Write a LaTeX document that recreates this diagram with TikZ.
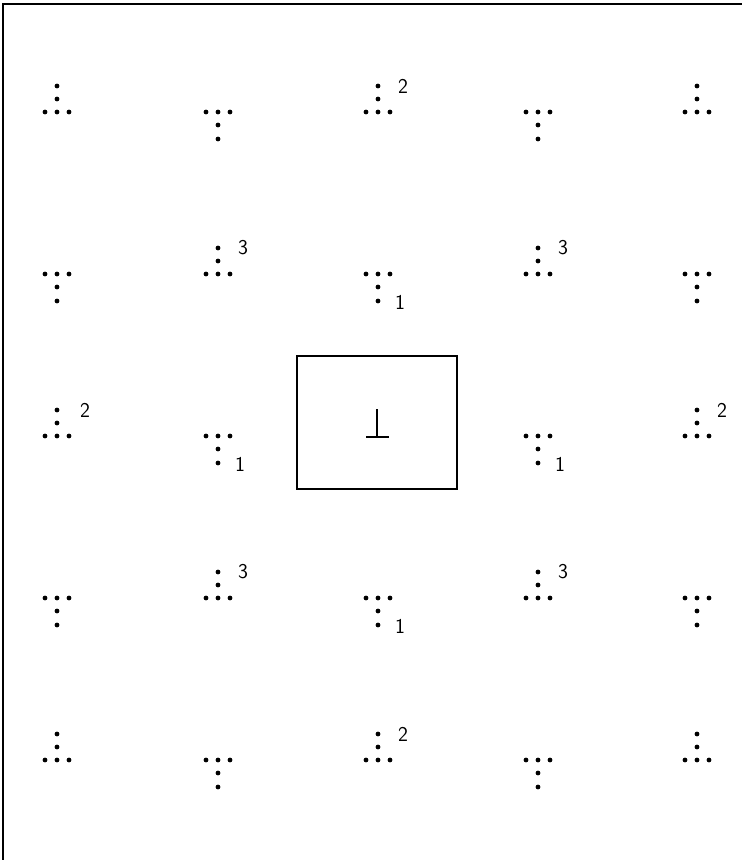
\documentclass[tikz,border=0pt]{standalone}
\usepackage{tikz}
\usetikzlibrary{positioning}
\tikzset{
  dot/.style={fill=black},
  supnum/.style={font=\sffamily\fontsize{18}{18}\selectfont,inner sep=0pt},
  frame/.style={line width=1.3pt},
  cell/.style={line width=0.9pt},
  uptri/.pic={% single dot stem over a row of three
    \foreach \p in {(0,-26),(0,-13),(-12,0),(0,0),(12,0)}
      \fill[dot] \p circle (2.4);
  },
  downtri/.pic={% row of three over a stem
    \foreach \p in {(-12,0),(0,0),(12,0),(0,13),(0,27)}
      \fill[dot] \p circle (2.4);
  },
}

\begin{document}
\begin{tikzpicture}[x=0.03cm,y=-0.03cm]
\useasboundingbox (0,0) rectangle (742,860);
\draw[frame] (3,860) -- (3,4) -- (742,4);

% row 1
\pic at (57,112)  {uptri};
\pic at (218,112) {downtri};
\pic at (378,112) {uptri};
\node[supnum] (n2a) at (403,86) {2};
\pic at (538,112) {downtri};
\pic at (697,112) {uptri};

% row 2
\pic at (57,274)  {downtri};
\pic at (218,274) {uptri};
\node[supnum] (n3a) at (243,248) {3};
\pic at (378,274) {downtri};
\node[supnum] (n1a) at (400,302) {1};
\pic at (538,274) {uptri};
\node[supnum] (n3b) at (563,248) {3};
\pic at (697,274) {downtri};

% row 3
\pic at (57,436)  {uptri};
\node[supnum] (n2b) at (85,410) {2};
\pic at (218,436) {downtri};
\node[supnum] (n1b) at (240,464) {1};
\node[cell,draw,minimum width=160*0.03cm,minimum height=133*0.03cm,inner sep=0pt]
  (cell) at (377,422.5) {};
\draw[line width=1.9pt] (377,409) -- (377,437);
\draw[line width=1.9pt] (366,437) -- (389,437);
\pic at (538,436) {downtri};
\node[supnum] (n1c) at (560,464) {1};
\pic at (697,436) {uptri};
\node[supnum] (n2c) at (722,410) {2};

% row 4
\pic at (57,598)  {downtri};
\pic at (218,598) {uptri};
\node[supnum] (n3c) at (243,572) {3};
\pic at (378,598) {downtri};
\node[supnum] (n1d) at (400,626) {1};
\pic at (538,598) {uptri};
\node[supnum] (n3d) at (563,572) {3};
\pic at (697,598) {downtri};

% row 5
\pic at (57,760)  {uptri};
\pic at (218,760) {downtri};
\pic at (378,760) {uptri};
\node[supnum] (n2d) at (403,734) {2};
\pic at (538,760) {downtri};
\pic at (697,760) {uptri};
\end{tikzpicture}
\end{document}
